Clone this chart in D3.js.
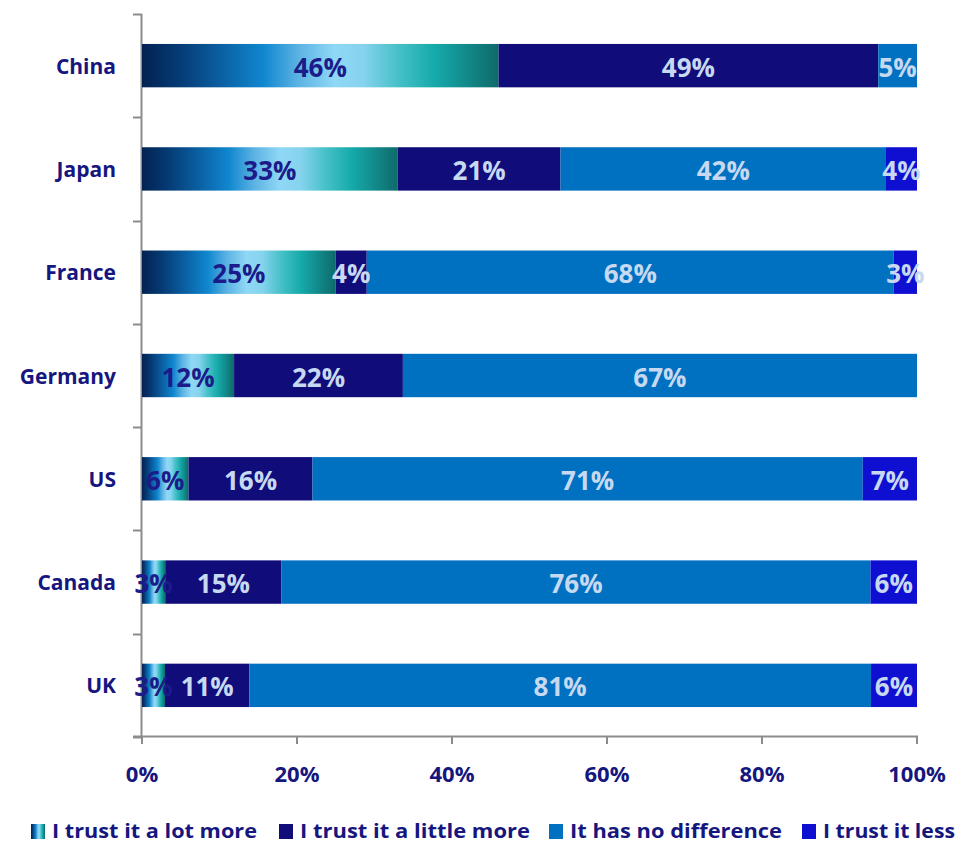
<!DOCTYPE html>
<meta charset="utf-8">
<script src="https://d3js.org/d3.v7.min.js"></script>
<body>
<div id="chart"></div>
<style>
 body { margin: 0; background: #fff; }
 text { font-family: 'Open Sans', sans-serif; font-weight: 700; }
</style>
<script>

// data
var countries = ["China", "Japan", "France", "Germany", "US", "Canada", "UK"];
var lotMore    = [46, 33, 25, 12, 6, 3, 3];
var littleMore = [49, 21, 4, 22, 16, 15, 11];
var noDiff     = [5, 42, 68, 67, 71, 76, 81];
var less       = [0, 4, 3, 0, 7, 6, 6];
var seriesNames = ["I trust it a lot more", "I trust it a little more", "It has no difference", "I trust it less"];
var xTicks = [0, 20, 40, 60, 80, 100];

var width = 957, height = 844;
var navy = "#16167f";
var colors = ["url(#lotGrad)", "#100c7a", "#0070c0", "#0f0fd2"];
var labelColors = ["#1b1b8a", "#c6d9f1", "#c6d9f1", "#c6d9f1"];

var svg = d3.select("#chart").append("svg")
    .attr("width", width)
    .attr("height", height);

// gradient for "a lot more"
var defs = svg.append("defs");
var grad = defs.append("linearGradient").attr("id", "lotGrad")
    .attr("x1", "0%").attr("x2", "100%").attr("y1", "0%").attr("y2", "0%");
[[0, "#032253"], [0.1, "#053a73"], [0.22, "#0a5fa2"], [0.34, "#1087cf"], [0.44, "#5db3e3"],
 [0.54, "#8fd8f6"], [0.62, "#86d3ee"], [0.72, "#45c0c8"], [0.82, "#16aaab"], [0.92, "#128686"], [1, "#0e6a6a"]]
  .forEach(function(s) { grad.append("stop").attr("offset", s[0]).attr("stop-color", s[1]); });

// scales
var x = d3.scaleLinear().domain([0, 100]).range([142, 917]);
var y = d3.scaleBand().domain(countries).range([14, 737])
    .paddingInner(0.58).paddingOuter(0.29);

// build stacked rows, normalised to 100%
var rows = countries.map(function(c, i) {
  var vals = [lotMore[i], littleMore[i], noDiff[i], less[i]];
  var total = d3.sum(vals);
  var acc = 0;
  return vals.map(function(v, k) {
    var seg = {country: c, k: k, v: v, x0: acc / total * 100, x1: (acc + v) / total * 100};
    acc += v;
    return seg;
  });
});
var segs = d3.merge(rows).filter(function(d) { return d.v > 0; });

// axes lines
var axisColor = "#8c8c8c";
svg.append("line").attr("x1", 141.5).attr("x2", 141.5).attr("y1", 14).attr("y2", 737)
    .attr("stroke", axisColor).attr("stroke-width", 2);
d3.range(countries.length + 1).forEach(function(i) {
  var yy = Math.round(y.range()[0] + i * y.step()) + 0.5;
  svg.append("line").attr("x1", 133).attr("x2", 142).attr("y1", yy).attr("y2", yy)
    .attr("stroke", axisColor).attr("stroke-width", 2);
});
svg.append("line").attr("x1", 133).attr("x2", 918).attr("y1", 736.5).attr("y2", 736.5)
    .attr("stroke", axisColor).attr("stroke-width", 2);
xTicks.forEach(function(t) {
  svg.append("line").attr("x1", x(t)).attr("x2", x(t)).attr("y1", 736).attr("y2", 744)
    .attr("stroke", axisColor).attr("stroke-width", 2);
  svg.append("text").attr("x", x(t)).attr("y", 773)
    .attr("text-anchor", "middle").attr("dominant-baseline", "central")
    .style("font-size", "22px").style("fill", navy).text(t + "%");
});

// bars
svg.append("g").selectAll("rect").data(segs).enter().append("rect")
    .attr("x", function(d) { return x(d.x0); })
    .attr("y", function(d) { return y(d.country); })
    .attr("width", function(d) { return x(d.x1) - x(d.x0); })
    .attr("height", y.bandwidth())
    .attr("fill", function(d) { return colors[d.k]; });

// value labels
svg.append("g").selectAll("text").data(segs).enter().append("text")
    .attr("x", function(d) { return x((d.x0 + d.x1) / 2); })
    .attr("y", function(d) { return y(d.country) + y.bandwidth() / 2 + 1; })
    .attr("text-anchor", "middle").attr("dominant-baseline", "central")
    .style("font-size", "26px")
    .style("fill", function(d) { return labelColors[d.k]; })
    .text(function(d) { return d.v + "%"; });

// category labels
svg.append("g").selectAll("text").data(countries).enter().append("text")
    .attr("x", 116)
    .attr("y", function(d) { return y(d) + y.bandwidth() / 2; })
    .attr("text-anchor", "end").attr("dominant-baseline", "central")
    .style("font-size", "21px").style("fill", navy)
    .text(function(d) { return d; });

// legend
var legX = [31, 279, 549, 802];
var legW = [205, 230, 212, 132];
var leg = svg.append("g");
seriesNames.forEach(function(name, k) {
  leg.append("rect").attr("x", legX[k]).attr("y", 824).attr("width", 14).attr("height", 15)
    .attr("fill", colors[k]);
  leg.append("text").attr("x", legX[k] + 21).attr("y", 830)
    .attr("dominant-baseline", "central")
    .attr("textLength", legW[k]).attr("lengthAdjust", "spacingAndGlyphs")
    .style("font-size", "20px").style("fill", navy).text(name);
});

</script>
</body>
